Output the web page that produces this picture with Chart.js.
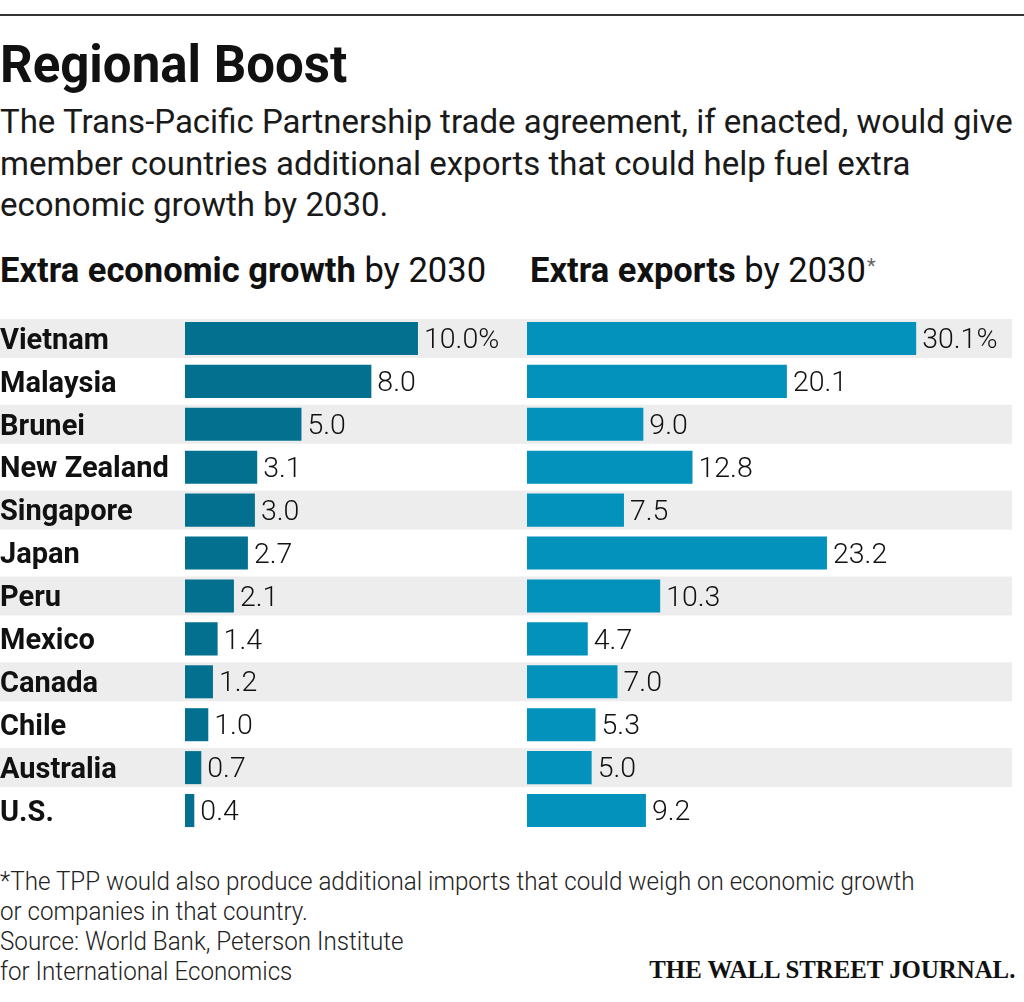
<!DOCTYPE html>
<html><head><meta charset="utf-8">
<script src="https://cdn.jsdelivr.net/npm/chart.js@4"></script>
<style>
html,body{margin:0;padding:0;background:#fff}
body{width:1024px;height:1002px;position:relative;overflow:hidden;font-family:Roboto,"Noto Sans",sans-serif;color:#111}
#rule{position:absolute;left:0;top:14px;width:1024px;height:2px;background:#333}
.t{position:absolute;left:0;white-space:nowrap}
#title{top:40px;font-size:51px;line-height:50px;font-weight:700}
#sub{top:101px;font-size:33px;line-height:41.5px;font-weight:400;color:#1a1a1a}
.head{top:253px;font-size:34.5px;line-height:34px;color:#111}
.head b{font-weight:700}
.ast{position:relative;top:-9px;font-size:20px;color:#666;line-height:0;margin-left:1px}
#foot{top:866px;font-size:26px;line-height:30px;font-weight:300;color:#222;transform:scaleX(0.93);transform-origin:0 0}
#wsj{left:auto;right:9px;top:956px;font-family:"Liberation Serif","DejaVu Serif",serif;font-weight:700;font-size:26px;line-height:28px;color:#111;transform:scaleX(0.955);transform-origin:100% 0}
.cv{position:absolute;top:317px;height:515px}
</style></head>
<body>
<div id="rule"></div>
<div class="t" id="title">Regional Boost</div>
<div class="t" id="sub">The Trans-Pacific Partnership trade agreement, if enacted, would give<br>member countries additional exports that could help fuel extra<br>economic growth by 2030.</div>
<div class="t head" style="left:0"><b>Extra economic growth</b> by 2030</div>
<div class="t head" style="left:530px"><b>Extra exports</b> by 2030<span class="ast">*</span></div>
<div class="cv" style="left:0;width:520px"><canvas id="c1"></canvas></div>
<div class="cv" style="left:520px;width:504px"><canvas id="c2"></canvas></div>
<div class="t" id="foot">*The TPP would also produce additional imports that could weigh on economic growth<br>or companies in that country.<br>Source: World Bank, Peterson Institute<br>for International Economics</div>
<div class="t" id="wsj">THE WALL STREET JOURNAL.</div>
<script>
const countries = ["Vietnam","Malaysia","Brunei","New Zealand","Singapore","Japan","Peru","Mexico","Canada","Chile","Australia","U.S."];
const growth = [10.0, 8.0, 5.0, 3.1, 3.0, 2.7, 2.1, 1.4, 1.2, 1.0, 0.7, 0.4];
const exportsExtra = [30.1, 20.1, 9.0, 12.8, 7.5, 23.2, 10.3, 4.7, 7.0, 5.3, 5.0, 9.2];

const bandPlugin = {
  id: 'bands',
  beforeDraw(chart, args, opts) {
    const {ctx, scales} = chart;
    const y = scales.y;
    ctx.save();
    ctx.fillStyle = '#ededed';
    for (let i = 0; i < countries.length; i += 2) {
      const c = y.getPixelForValue(i);
      ctx.fillRect(opts.left, c - 19.5, opts.right - opts.left, 39);
    }
    ctx.restore();
  }
};
const labelPlugin = {
  id: 'vlabels',
  afterDatasetsDraw(chart) {
    const {ctx} = chart;
    const meta = chart.getDatasetMeta(0);
    const data = chart.data.datasets[0].data;
    ctx.save();
    ctx.font = '300 28.5px Roboto, "Noto Sans", sans-serif';
    ctx.fillStyle = '#111';
    ctx.textBaseline = 'middle';
    ctx.textAlign = 'left';
    meta.data.forEach((bar, i) => {
      const txt = data[i].toFixed(1) + (i === 0 ? '%' : '');
      ctx.fillText(txt, bar.x + 6, bar.y + 2.5);
    });
    ctx.restore();
  }
};

function makeChart(id, values, color, xmax, showY, bandOpts, padLeft) {
  return new Chart(document.getElementById(id), {
    type: 'bar',
    data: { labels: countries, datasets: [{ data: values, backgroundColor: color, borderWidth: 0, barPercentage: 0.77, categoryPercentage: 1 }] },
    options: {
      indexAxis: 'y',
      responsive: true,
      maintainAspectRatio: false,
      animation: false,
      layout: { padding: { left: padLeft, right: 0, top: 0, bottom: 0 } },
      plugins: { legend: { display: false }, tooltip: { enabled: false }, bands: bandOpts },
      scales: {
        x: { display: false, min: 0, max: xmax },
        y: {
          display: showY,
          grid: { display: false },
          border: { display: false },
          ticks: { autoSkip: false, crossAlign: 'far', padding: 0, labelOffset: 3, color: '#111', font: { family: 'Roboto', weight: '700', size: 29 } },
          afterFit(scale) {
            if (showY) scale.width = 185;
            scale.paddingTop = 0; scale.paddingBottom = 0;
          }
        }
      }
    },
    plugins: [bandPlugin, labelPlugin]
  });
}
makeChart('c1', growth, '#03708f', 14.38, true, {left: 0, right: 520}, 0);
makeChart('c2', exportsExtra, '#0392bb', 38.44, false, {left: 0, right: 492}, 7);
</script>
</body></html>
